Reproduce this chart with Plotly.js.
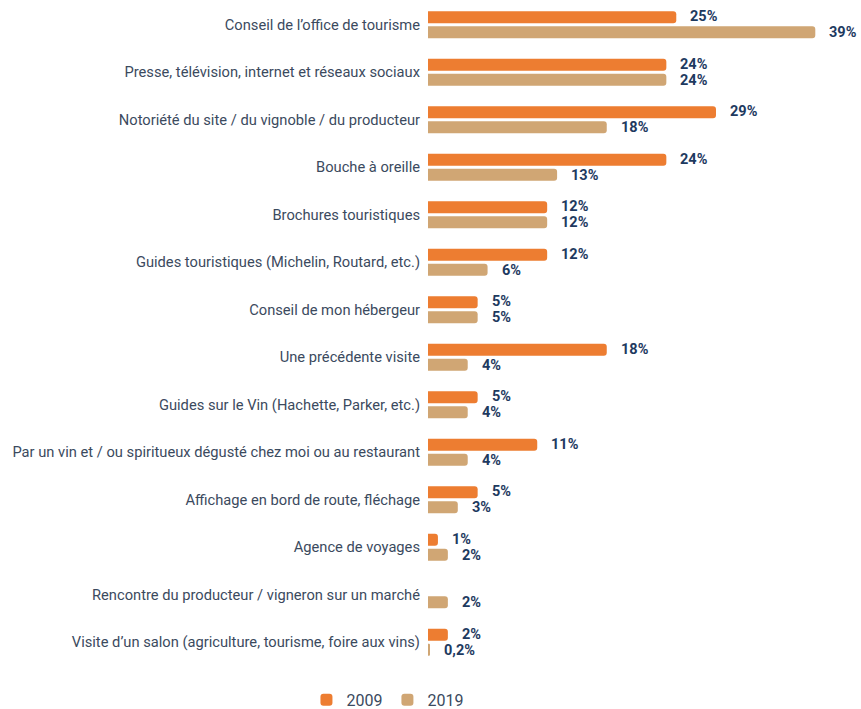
<!DOCTYPE html>
<html>
<head>
<meta charset="utf-8">
<script src="https://cdn.plot.ly/plotly-3.0.1.min.js"></script>
<style>html,body{margin:0;padding:0;background:#fff;}#chart{width:861px;height:709px;}</style>
</head>
<body>
<div id="chart"></div>
<script>
const categories = [
  "Conseil de l’office de tourisme",
  "Presse, télévision, internet et réseaux sociaux",
  "Notoriété du site / du vignoble / du producteur",
  "Bouche à oreille",
  "Brochures touristiques",
  "Guides touristiques (Michelin, Routard, etc.)",
  "Conseil de mon hébergeur",
  "Une précédente visite",
  "Guides sur le Vin (Hachette, Parker, etc.)",
  "Par un vin et / ou spiritueux dégusté chez moi ou au restaurant",
  "Affichage en bord de route, fléchage",
  "Agence de voyages",
  "Rencontre du producteur / vigneron sur un marché",
  "Visite d’un salon (agriculture, tourisme, foire aux vins)"
];
const values2009 = [25, 24, 29, 24, 12, 12, 5, 18, 5, 11, 5, 1, null, 2];
const values2019 = [39, 24, 18, 13, 12, 6, 5, 4, 4, 4, 3, 2, 2, 0.2];
const seriesNames = ["2009", "2019"];
const colors = ["#ED7D31", "#D0A674"];

function fmt(v){ return String(v).replace('.', ',') + '%'; }

const traces = [values2009, values2019].map((vals, i) => ({
  type: 'bar',
  orientation: 'h',
  name: seriesNames[i],
  y: categories,
  x: vals,
  marker: {color: colors[i], cornerradius: 3},
  hoverinfo: 'skip'
}));

const annotations = [];
[values2009, values2019].forEach((vals, i) => {
  vals.forEach((v, j) => {
    if (v === null) return;
    annotations.push({
      x: v, y: categories[j], xref: 'x', yref: 'y',
      text: '<b>' + fmt(v) + '</b>',
      showarrow: false, xanchor: 'left', yanchor: 'middle',
      xshift: 13, yshift: i === 0 ? 8 : -8, borderpad: 0,
      font: {family: 'Roboto, sans-serif', size: 14.5, color: '#1E3A5F'}
    });
  });
});

const layout = {
  width: 861, height: 709,
  margin: {l: 428, r: 3, t: 1, b: 43},
  paper_bgcolor: '#fff', plot_bgcolor: '#fff',
  barmode: 'group', bargap: 0.368, bargroupgap: 0.2,
  font: {family: 'Roboto, sans-serif', size: 15, color: '#3B4A5E'},
  xaxis: {range: [0, 43.3], showgrid: false, zeroline: false, showticklabels: false, showline: false, fixedrange: true},
  yaxis: {autorange: 'reversed', showgrid: false, zeroline: false, showline: false, ticks: '', ticklabelstandoff: 7,
          tickfont: {family: 'Roboto, sans-serif', size: 14.7, color: '#3B4A5E'}},
  showlegend: true,
  legend: {orientation: 'h', xref: 'container', yref: 'container', x: 0.45, y: 0.013, xanchor: 'center', yanchor: 'middle',
           font: {family: 'Roboto, sans-serif', size: 16, color: '#3B4A5E'}, itemwidth: 30},
  annotations: annotations
};

Plotly.newPlot('chart', traces, layout, {displayModeBar: false, staticPlot: true});
</script>
</body>
</html>
